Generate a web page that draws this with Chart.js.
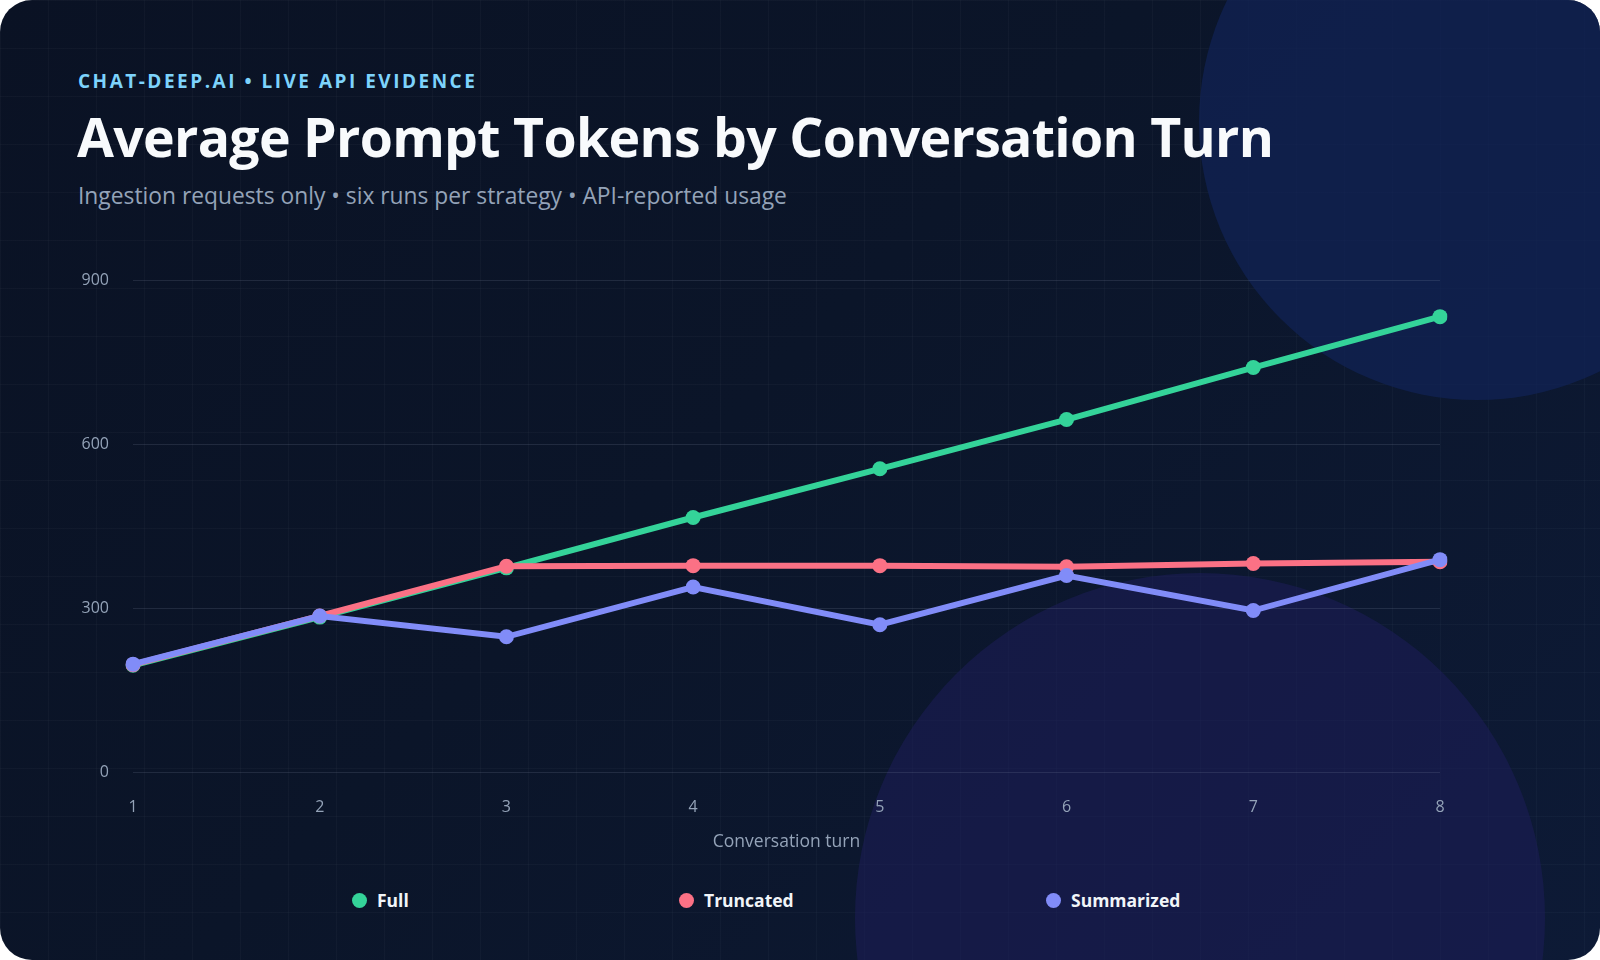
<!DOCTYPE html>
<html>
<head>
<meta charset="utf-8">
<script src="https://cdn.jsdelivr.net/npm/chart.js@4.4.1/dist/chart.umd.min.js"></script>
<style>
    html, body { margin: 0; padding: 0; background: #ffffff; }
    body { width: 1600px; height: 960px; overflow: hidden; font-family: "Open Sans", "Noto Sans", sans-serif; }
    .card {
        position: absolute; left: 0; top: 0; width: 1600px; height: 960px;
        border-radius: 32px; overflow: hidden;
        background: linear-gradient(135deg, #0a1224 0%, #0b1529 45%, #0d1a36 100%);
    }
    .grid-bg {
        position: absolute; inset: 0;
        background-image:
            linear-gradient(to right, rgba(148,163,184,0.045) 1px, transparent 1px),
            linear-gradient(to bottom, rgba(148,163,184,0.045) 1px, transparent 1px);
        background-size: 48px 48px;
    }
    .blob { position: absolute; border-radius: 50%; }
    .blob.top { left: 1199px; top: -156px; width: 556px; height: 556px; background: rgba(16, 34, 86, 0.72); }
    .blob.bottom { left: 855px; top: 573px; width: 690px; height: 690px; background: rgba(30, 30, 90, 0.55); }
    .kicker {
        position: absolute; left: 78px; top: 68px;
        color: #7dd3fc; font-size: 19px; font-weight: 700; letter-spacing: 2.5px;
    }
    .title {
        position: absolute; left: 77px; top: 100px;
        color: #f8fafc; font-size: 53.6px; font-weight: 700; letter-spacing: -0.7px;
    }
    .subtitle {
        position: absolute; left: 78px; top: 180px;
        color: #94a3b8; font-size: 22.8px;
    }
    .chart-box { position: absolute; left: 0; top: 240px; width: 1600px; height: 640px; }
    .legend { position: absolute; left: 0; top: 888px; width: 1600px; height: 24px; }
    .legend .item {
        position: absolute; top: 0; display: flex; align-items: center;
        color: #f1f5f9; font-size: 17.5px; font-weight: 700;
    }
    .legend .item:nth-child(1) { left: 352px; }
    .legend .item:nth-child(2) { left: 679px; }
    .legend .item:nth-child(3) { left: 1046px; }
    .legend .dot { width: 15px; height: 15px; border-radius: 50%; margin-right: 10px; }
</style>
</head>
<body>
<div class="card">
    <div class="grid-bg"></div>
    <div class="blob top"></div>
    <div class="blob bottom"></div>
    <div class="kicker">CHAT-DEEP.AI • LIVE API EVIDENCE</div>
    <div class="title">Average Prompt Tokens by Conversation Turn</div>
    <div class="subtitle">Ingestion requests only • six runs per strategy • API-reported usage</div>
    <div class="chart-box"><canvas id="tokenChart" width="1600" height="640"></canvas></div>
    <div class="legend" id="legend"></div>
</div>

<script>
// số liệu
const turns = ['1', '2', '3', '4', '5', '6', '7', '8'];
const fullTokens = [196, 284, 374, 466, 555, 645, 740, 833];
const truncatedTokens = [197, 286, 377, 378, 378, 376, 382, 385];
const summarizedTokens = [198, 286, 248, 339, 270, 360, 296, 389];
const yTicks = [0, 300, 600, 900];

const seriesNames = ['Full', 'Truncated', 'Summarized'];
const seriesColors = ['#34d399', '#fb7185', '#818cf8'];

function makeDataset(i, values) {
    return {
        label: seriesNames[i],
        data: values,
        borderColor: seriesColors[i],
        backgroundColor: seriesColors[i],
        pointBackgroundColor: seriesColors[i],
        pointBorderColor: seriesColors[i],
        pointBorderWidth: 0,
        pointRadius: 7.5,
        borderWidth: 6,
        tension: 0,
        order: 3 - i // Summarized vẽ trên cùng
    };
}

const chartData = {
    labels: turns,
    datasets: [
        makeDataset(0, fullTokens),
        makeDataset(1, truncatedTokens),
        makeDataset(2, summarizedTokens)
    ]
};

new Chart(document.getElementById('tokenChart'), {
    type: 'line',
    data: chartData,
    options: {
        responsive: false,
        animation: false,
        layout: { padding: { left: 0, right: 160, top: 40, bottom: 0 } },
        plugins: {
            legend: { display: false },
            tooltip: { enabled: false }
        },
        scales: {
            x: {
                offset: false,
                grid: { display: false, drawTicks: false },
                border: { display: false },
                ticks: { color: '#94a3b8', font: { family: 'Open Sans', size: 16 }, padding: 25 },
                title: {
                    display: true,
                    text: 'Conversation turn',
                    color: '#94a3b8',
                    font: { family: 'Open Sans', size: 17.5 },
                    padding: { top: 4, bottom: 27 }
                },
                afterFit: function (scale) { scale.height = 107.5; }
            },
            y: {
                min: 0,
                max: 900,
                afterBuildTicks: function (scale) {
                    scale.ticks = yTicks.map(v => ({ value: v }));
                },
                grid: { color: 'rgba(148, 163, 184, 0.16)', lineWidth: 1, drawTicks: false },
                border: { display: false },
                ticks: { color: '#94a3b8', font: { family: 'Open Sans', size: 16 }, padding: 24 },
                afterFit: function (scale) { scale.width = 133; }
            }
        }
    }
});

// chú thích dạng HTML
const legendBox = document.getElementById('legend');
seriesNames.forEach((name, i) => {
    const item = document.createElement('div');
    item.className = 'item';
    item.innerHTML = `<span class="dot" style="background:${seriesColors[i]}"></span><span>${name}</span>`;
    legendBox.appendChild(item);
});
</script>
</body>
</html>
